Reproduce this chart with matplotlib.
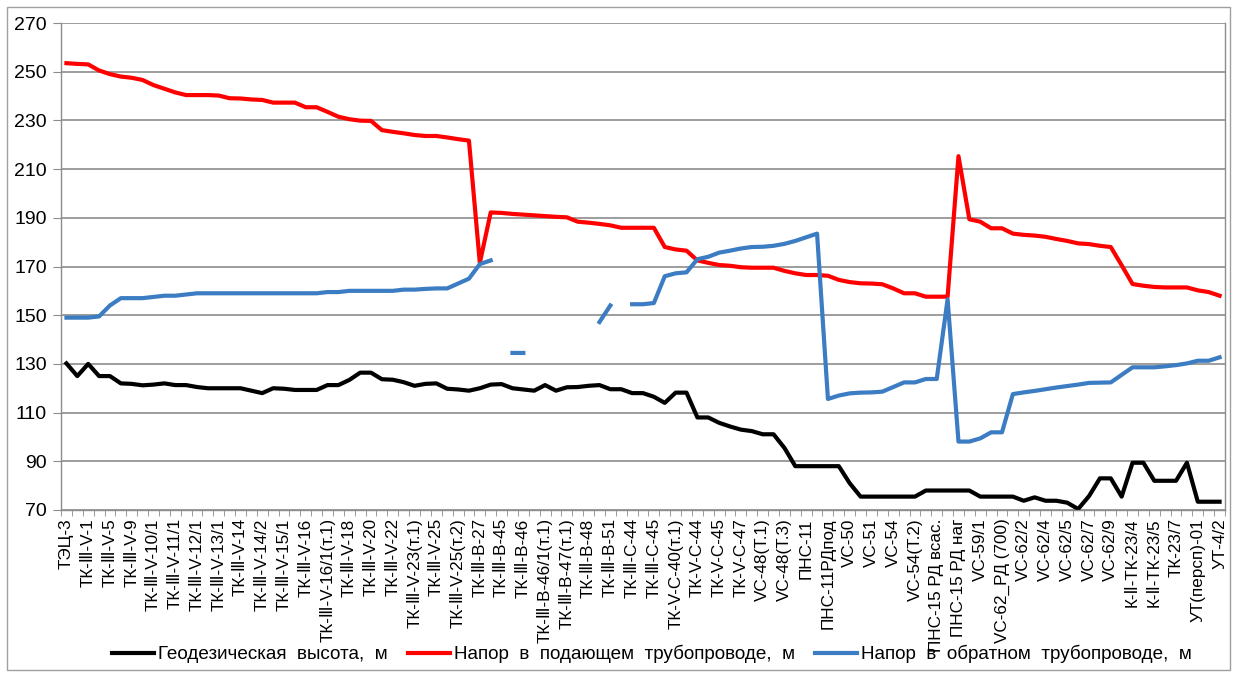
import matplotlib
matplotlib.use("Agg")
import matplotlib.pyplot as plt
import numpy as np
from matplotlib.patches import Rectangle
from matplotlib.ticker import FixedLocator

plt.rcParams['font.family'] = ['Liberation Sans', 'DejaVu Sans']

labels = [
    "ТЭЦ-3", "ТК-Ⅲ-V-1", "ТК-Ⅲ-V-5", "ТК-Ⅲ-V-9", "ТК-Ⅲ-V-10/1", "ТК-Ⅲ-V-11/1",
    "ТК-Ⅲ-V-12/1", "ТК-Ⅲ-V-13/1", "ТК-Ⅲ-V-14", "ТК-Ⅲ-V-14/2", "ТК-Ⅲ-V-15/1",
    "ТК-Ⅲ-V-16", "ТК-Ⅲ-V-16/1(т.1)", "ТК-Ⅲ-V-18", "ТК-Ⅲ-V-20", "ТК-Ⅲ-V-22",
    "ТК-Ⅲ-V-23(т.1)", "ТК-Ⅲ-V-25", "ТК-Ⅲ-V-25(т.2)", "ТК-Ⅲ-В-27", "ТК-Ⅲ-В-45",
    "ТК-Ⅲ-В-46", "ТК-Ⅲ-В-46/1(т.1)", "ТК-Ⅲ-В-47(т.1)", "ТК-Ⅲ-В-48", "ТК-Ⅲ-В-51",
    "ТК-Ⅲ-С-44", "ТК-Ⅲ-С-45", "ТК-V-С-40(т.1)", "ТК-V-С-44", "ТК-V-С-45",
    "ТК-V-С-47", "VC-48(Т.1)", "VC-48(Т.3)", "ПНС-11", "ПНС-11РДпод", "VC-50",
    "VC-51", "VC-54", "VC-54(Т.2)", "ПНС-15 РД всас.", "ПНС-15 РД наг", "VC-59/1",
    "VC-62_РД (700)", "VC-62/2", "VC-62/4", "VC-62/5", "VC-62/7", "VC-62/9",
    "К-Ⅱ-ТК-23/4", "К-Ⅱ-ТК-23/5", "ТК-23/7", "УТ(персп)-01", "УТ-4/2",
]

y_ticks = [70, 90, 110, 130, 150, 170, 190, 210, 230, 250, 270]

geo = [
    130.2, 125, 130, 125, 125, 122, 121.8, 121.2, 121.5, 122,
    121.3, 121.3, 120.5, 120, 120, 120, 120, 119, 118, 120,
    119.8, 119.3, 119.3, 119.3, 121.3, 121.3, 123.4, 126.4, 126.4, 123.7,
    123.5, 122.5, 121, 121.8, 122, 119.8, 119.5, 119, 120, 121.5,
    121.7, 120, 119.5, 119, 121.3, 119, 120.4, 120.5, 121, 121.3,
    119.6, 119.6, 118, 118, 116.5, 114, 118.2, 118.2, 108, 108,
    105.8, 104.3, 103, 102.4, 101.1, 101.1, 95.5, 88, 88, 88,
    88, 88, 81, 75.5, 75.5, 75.5, 75.5, 75.5, 75.5, 78,
    78, 78, 78, 78, 75.5, 75.5, 75.5, 75.5, 73.8, 75.2,
    73.8, 73.8, 73, 70.4, 75.7, 83, 83, 75.5, 89.4, 89.4,
    82, 82, 82, 89.4, 73.4, 73.4, 73.4,
]

supply = [
    253.5, 253.2, 253, 250.5, 249, 248, 247.5, 246.6, 244.5, 243,
    241.5, 240.4, 240.4, 240.4, 240.2, 239.1, 239, 238.6, 238.4, 237.3,
    237.3, 237.3, 235.4, 235.4, 233.5, 231.5, 230.5, 229.9, 229.8, 226,
    225.3, 224.7, 224, 223.6, 223.6, 223, 222.3, 221.7, 171.5, 192.2,
    192, 191.6, 191.3, 191, 190.7, 190.4, 190.2, 188.4, 188, 187.5,
    186.9, 185.9, 185.9, 185.9, 185.9, 178, 177, 176.5, 172.5, 171.5,
    170.6, 170.3, 169.7, 169.5, 169.5, 169.5, 168.2, 167.2, 166.5, 166.5,
    166.2, 164.5, 163.6, 163.1, 163, 162.7, 161, 159, 159, 157.6,
    157.6, 157.6, 215.3, 189.4, 188.4, 185.7, 185.7, 183.5, 183, 182.7,
    182.2, 181.3, 180.5, 179.5, 179.2, 178.5, 178, 170.5, 162.8, 162.1,
    161.6, 161.4, 161.4, 161.4, 160.2, 159.5, 158,
]

nan = float('nan')
ret = [
    149, 149, 149, 149.5, 154, 157, 157, 157, 157.5, 158,
    158, 158.5, 159, 159, 159, 159, 159, 159, 159, 159,
    159, 159, 159, 159, 159.5, 159.5, 160, 160, 160, 160,
    160, 160.5, 160.5, 160.8, 161, 161, 163, 165, 171, 172.5,
    nan, 134.5, 134.5, nan, nan, nan, nan, nan, nan, 147.2,
    154, nan, 154.5, 154.5, 155, 166, 167.2, 167.6, 173, 174,
    175.7, 176.5, 177.4, 178, 178.1, 178.5, 179.3, 180.5, 182, 183.5,
    115.6, 117, 117.9, 118.2, 118.3, 118.6, 120.5, 122.4, 122.4, 123.8,
    123.8, 156.5, 98.1, 98.1, 99.4, 101.9, 101.9, 117.6, 118.3, 118.9,
    119.6, 120.3, 120.9, 121.5, 122.2, 122.3, 122.4, 125.5, 128.6, 128.6,
    128.6, 129, 129.5, 130.2, 131.3, 131.3, 132.7,
]

series_names = [
    "Геодезическая  высота,  м",
    "Напор  в  подающем  трубопроводе,  м",
    "Напор  в  обратном  трубопроводе,  м",
]
colors = ["#000000", "#FF0000", "#3B7CC2"]

n = len(geo)
x = np.arange(n)

W, H = 1237, 675
fig = plt.figure(figsize=(W / 100, H / 100), dpi=100)
ax = fig.add_axes([61 / W, 1 - 510 / H, (1225 - 61) / W, (510 - 23) / H])

ax.plot(x, geo, color=colors[0], lw=3, label=series_names[0], solid_joinstyle='round')
ax.plot(x, supply, color=colors[1], lw=3, label=series_names[1], solid_joinstyle='round')
ax.plot(x, ret, color=colors[2], lw=3, label=series_names[2], solid_joinstyle='round')

ax.set_xlim(-0.5, n - 0.5)
ax.set_ylim(y_ticks[0], y_ticks[-1])
ax.yaxis.set_major_locator(FixedLocator(y_ticks))
ax.grid(axis='y', color='#8c8c8c', lw=1.2)
ax.set_axisbelow(True)

ax.set_xticks(np.arange(0, n, 2))
ax.set_xticklabels(labels, rotation=90, fontsize=12.3, va='top', ha='center')
ax.xaxis.set_minor_locator(FixedLocator(np.arange(-0.5, n, 1)))
ax.tick_params(axis='x', which='major', length=0, pad=6)
ax.tick_params(axis='x', which='minor', length=4, color='#8c8c8c', direction='out')
ax.tick_params(axis='y', length=6, color='#8c8c8c', labelsize=14, pad=4)

for s in ax.spines.values():
    s.set_color('#8c8c8c')
    s.set_linewidth(1)
ax.spines['top'].set_visible(False)

fig.legend(loc='center', bbox_to_anchor=(0.527, 0.031), ncol=3, frameon=False,
           fontsize=13.6, handlelength=2.2, handletextpad=0.2, columnspacing=1.1)

fig.patches.append(Rectangle((7 / W, 5 / H), (1230 - 7) / W, (668 - 5) / H,
                             transform=fig.transFigure, fill=False,
                             edgecolor='#a0a0a0', lw=1))

fig.savefig("out.png", dpi=100)
